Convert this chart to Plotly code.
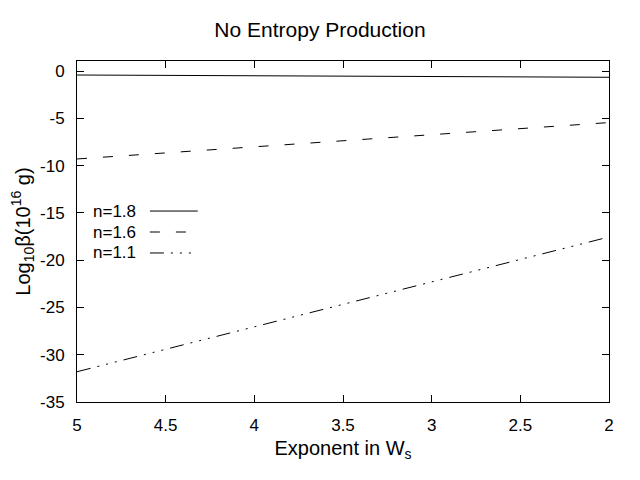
import plotly.graph_objects as go

exponent = [5.0, 4.5, 4.0, 3.5, 3.0, 2.5, 2.0]
beta_n18 = [-0.42, -0.46, -0.50, -0.54, -0.58, -0.62, -0.66]
beta_n16 = [-9.3, -8.66, -8.01, -7.37, -6.73, -6.09, -5.45]
beta_n11 = [-31.8, -29.43, -27.05, -24.68, -22.3, -19.93, -17.55]
labels = ["n=1.8", "n=1.6", "n=1.1"]
x_ticks = [5, 4.5, 4, 3.5, 3, 2.5, 2]
x_ticktext = ["5", "4.5", "4", "3.5", "3", "2.5", "2"]
y_ticks = [0, -5, -10, -15, -20, -25, -30, -35]
y_ticktext = ["0", "-5", "-10", "-15", "-20", "-25", "-30", "-35"]
dashes = ["solid", "10px,16px", "14px,7px,2px,7px,2px,7px,2px,7px"]
series = [beta_n18, beta_n16, beta_n11]

fig = go.Figure()
for lab, ys, d in zip(labels, series, dashes):
    fig.add_trace(go.Scatter(x=exponent, y=ys, mode="lines", name=lab,
                             line=dict(color="black", width=1, dash=d),
                             showlegend=False))

# manual gnuplot-style legend (text then sample)
leg_y = [0.560, 0.4985, 0.437]
for lab, d, yy in zip(labels, dashes, leg_y):
    fig.add_annotation(x=0.026, y=yy, xref="paper", yref="paper", text=lab,
                       showarrow=False, xanchor="left", yanchor="middle",
                       font=dict(size=17, color="black"))
    fig.add_shape(type="line", xref="paper", yref="paper",
                  x0=0.137, x1=0.227, y0=yy, y1=yy,
                  line=dict(color="black", width=1, dash=d))

fig.update_layout(
    width=640, height=480,
    margin=dict(l=77, r=31, t=61, b=78),
    paper_bgcolor="white", plot_bgcolor="white",
    font=dict(family="Liberation Sans, Arial, sans-serif", size=17, color="black"),
    title=dict(text="No Entropy Production", x=0.5, xanchor="center", y=1 - 30 / 480,
               yanchor="middle", font=dict(size=21)),
)
fig.update_xaxes(range=[5, 2], tickvals=x_ticks, ticktext=x_ticktext,
                 ticks="inside", ticklen=7, tickcolor="black", mirror="ticks",
                 showline=True, linecolor="black", linewidth=1, showgrid=False,
                 zeroline=False, ticklabelstandoff=8,
                 title=dict(text="Exponent in W<sub>s</sub>", font=dict(size=20), standoff=6))
fig.update_yaxes(range=[-35, 1.06], tickvals=y_ticks, ticktext=y_ticktext,
                 ticks="inside", ticklen=7, tickcolor="black", mirror="ticks",
                 showline=True, linecolor="black", linewidth=1, showgrid=False,
                 zeroline=False, ticklabelstandoff=8,
                 title=dict(text="Log<sub>10</sub>β(10<sup>16</sup> g)", font=dict(size=20), standoff=4))

fig.write_html("out.html")
